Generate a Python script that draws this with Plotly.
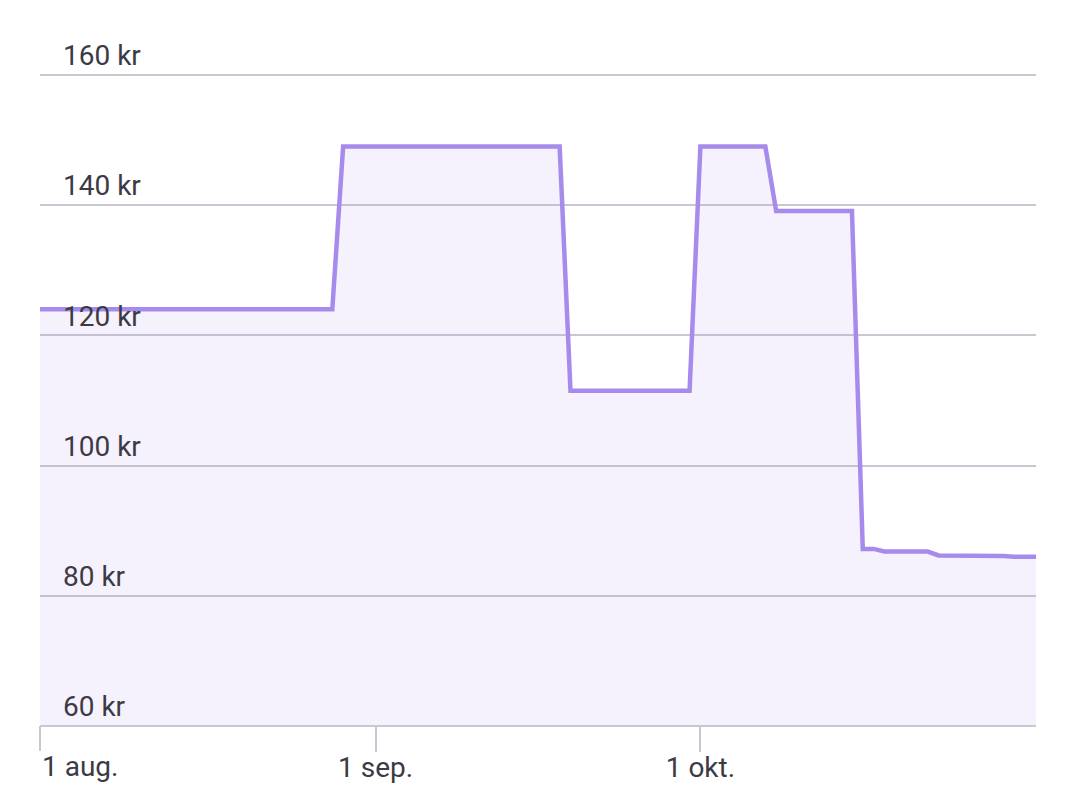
import pandas as pd
import plotly.graph_objects as go

# Daily prices (kr), 1 Aug - 1 Nov
start_date = "2023-08-01"
prices = (
    [124.0] * 28            # Aug 1 - Aug 28
    + [149.0] * 21          # Aug 29 - Sep 18
    + [111.5] * 12          # Sep 19 - Sep 30
    + [149.0] * 7           # Oct 1 - Oct 7
    + [139.1] * 8           # Oct 8 - Oct 15
    + [87.2, 87.2]          # Oct 16 - Oct 17
    + [86.8] * 5            # Oct 18 - Oct 22
    + [86.2, 86.2, 86.2, 86.1, 86.1, 86.1, 86.1, 86.0, 86.0, 86.0]  # Oct 23 - Nov 1
)
dates = pd.date_range(start_date, periods=len(prices), freq="D")

tick_vals = ["2023-08-01", "2023-09-01", "2023-10-01"]
tick_text = ["1 aug.", "1 sep.", "1 okt."]
y_ticks = [60, 80, 100, 120, 140, 160]
y_text = [f"{v} kr" for v in y_ticks]

fig = go.Figure()
fig.add_trace(go.Scatter(
    x=dates, y=prices, mode="lines",
    line=dict(color="#a78bec", width=4.5),
    fill="tozeroy", fillcolor="rgba(167,139,236,0.11)",
    hoverinfo="skip",
))

font = dict(family="Roboto", size=28, color="#3c3a44")
grid = "#c9c7d1"
fig.update_layout(
    width=1064, height=787,
    margin=dict(l=32, r=36, t=22, b=69, autoexpand=False),
    plot_bgcolor="white", paper_bgcolor="white",
    showlegend=False,
    font=font,
    xaxis=dict(
        range=[dates[0], dates[-1]],
        tickvals=tick_vals, ticktext=["\u00a0"] + tick_text[1:],
        ticks="outside", ticklen=25, tickwidth=2, tickcolor=grid,
        ticklabelstandoff=-9,
        showgrid=False, zeroline=False,
        showline=False,
        tickfont=font,
    ),
    yaxis=dict(
        range=[60, 166.9],
        tickvals=y_ticks, ticktext=y_text,
        ticklabelposition="inside top",
        ticklabelstandoff=20,
        showgrid=True, gridcolor=grid, gridwidth=2,
        zeroline=False, showline=False,
        tickfont=font,
    ),
)
# bottom axis line
fig.add_shape(type="line", xref="paper", yref="paper", x0=0, x1=1, y0=0, y1=0,
              line=dict(color=grid, width=2), layer="above")
# tick at the left edge (first date), which Plotly drops at the range end
fig.add_shape(type="line", xref="paper", yref="paper", x0=0, x1=0,
              ysizemode="pixel", yanchor=0, y0=0, y1=-25,
              line=dict(color=grid, width=2), layer="above")
fig.add_annotation(
    x=tick_vals[0], xref="x", y=0, yref="paper",
    text=tick_text[0], showarrow=False,
    xanchor="left", yanchor="top", xshift=0, yshift=-22,
    font=font,
)
fig.write_html("out.html")
